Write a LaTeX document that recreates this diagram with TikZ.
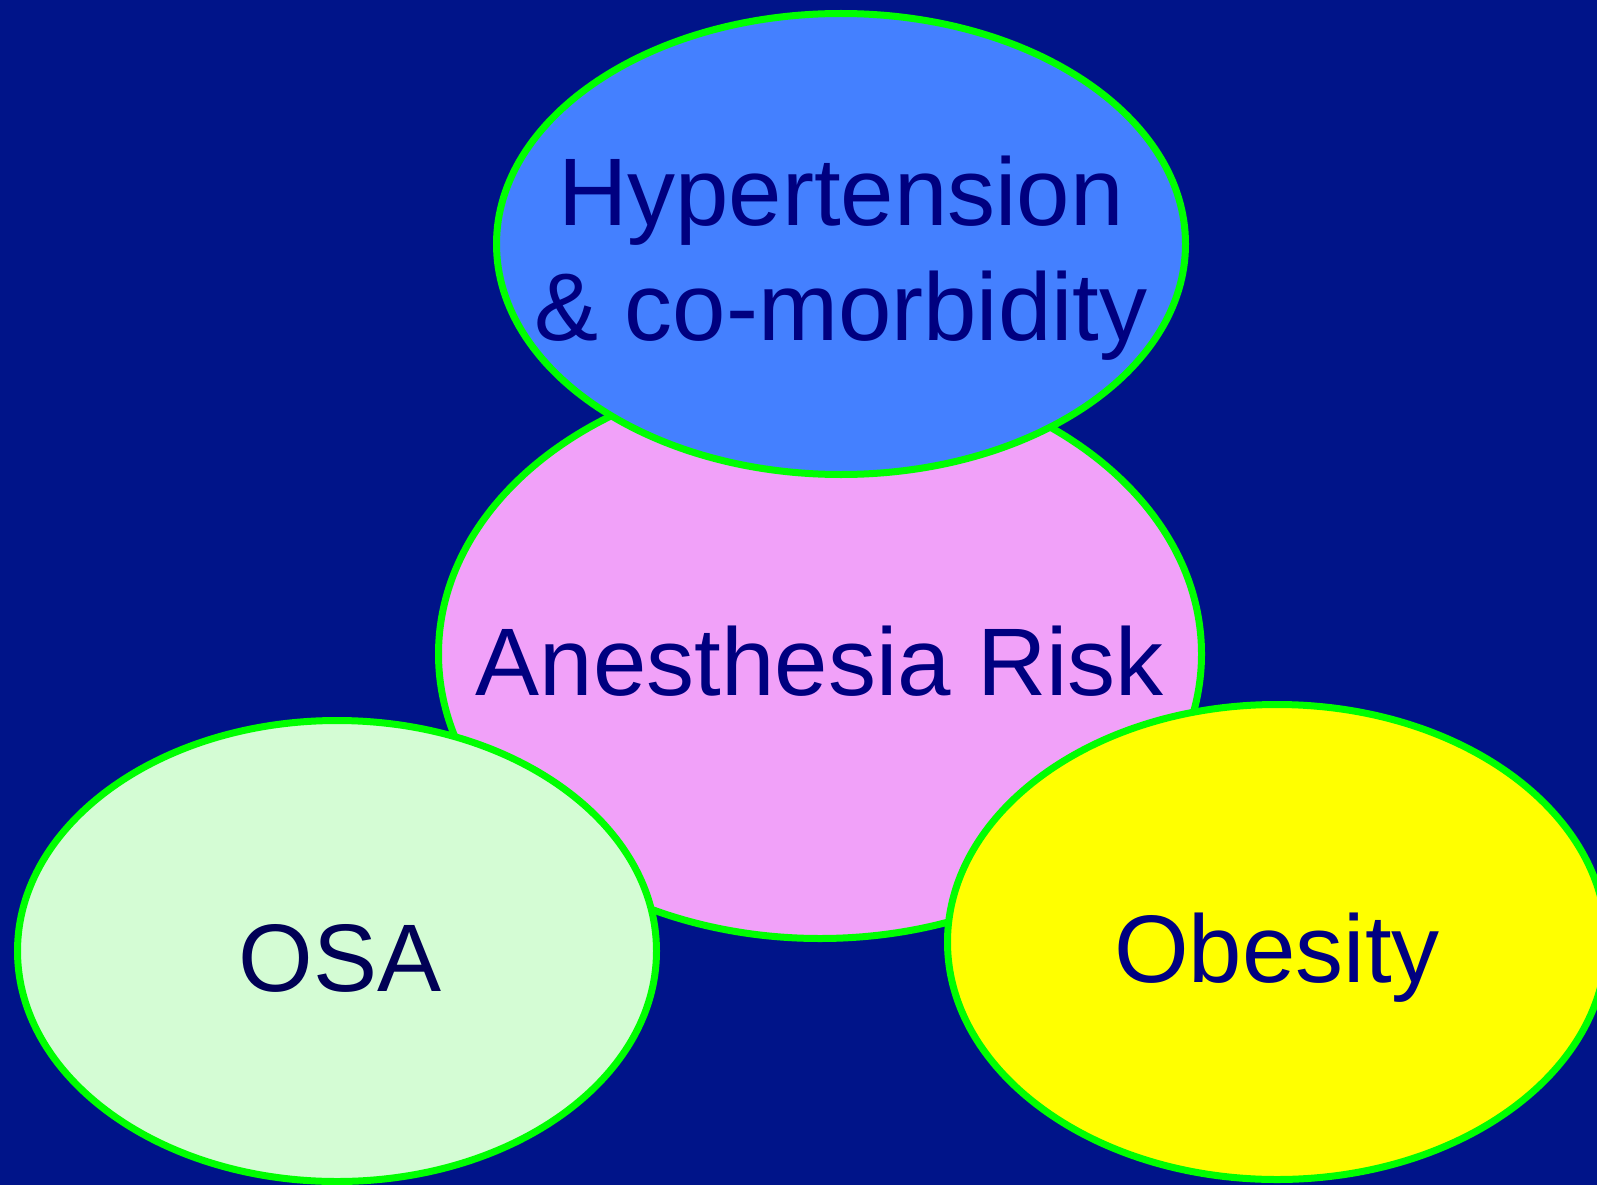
\documentclass[tikz,border=0pt]{standalone}
\usepackage{fontspec}
\setmainfont{Liberation Sans}
\usetikzlibrary{shapes.geometric}

\definecolor{bgnavy}{HTML}{001489}
\definecolor{rimgreen}{HTML}{00FF00}
\definecolor{hyperblue}{HTML}{4480FF}
\definecolor{riskpink}{HTML}{F1A1F9}
\definecolor{osagreen}{HTML}{D4FCD4}
\definecolor{obeseyellow}{HTML}{FFFF00}
\definecolor{txtnavy}{HTML}{000080}
\definecolor{txtdark}{HTML}{000055}

\begin{document}
\begin{tikzpicture}[x=1pt, y=-1pt,
  bubble/.style={draw=rimgreen, ellipse, line width=7pt, inner sep=0pt},
  bubbletext/.style={anchor=base, inner sep=0pt, text=txtnavy, align=center,
    font=\fontsize{96}{115}\selectfont}]

\useasboundingbox (0,0) rectangle (1597,1185);
\clip (0,0) rectangle (1597,1185);
\fill[bgnavy] (0,0) rectangle (1597,1185);

\node[bubble, fill=riskpink, minimum width=763pt, minimum height=569pt] (risk) at (820,654) {};
\node[bubble, fill=hyperblue, minimum width=689pt, minimum height=461pt] (hyper) at (841,244) {};
\node[bubble, fill=osagreen, minimum width=639pt, minimum height=461pt] (osa) at (337,951) {};
\node[bubble, fill=obeseyellow, minimum width=659pt, minimum height=475pt] (obese) at (1277,942) {};

\node[bubbletext] (hypertxt) at (841,340) {Hypertension\\\& co-morbidity};
\node[bubbletext] (risktxt) at (820,695) {Anesthesia Risk};
\node[bubbletext, text=txtdark] (osatxt) at (340,991) {OSA};
\node[bubbletext] (obesetxt) at (1277,982) {Obesity};

\end{tikzpicture}
\end{document}
